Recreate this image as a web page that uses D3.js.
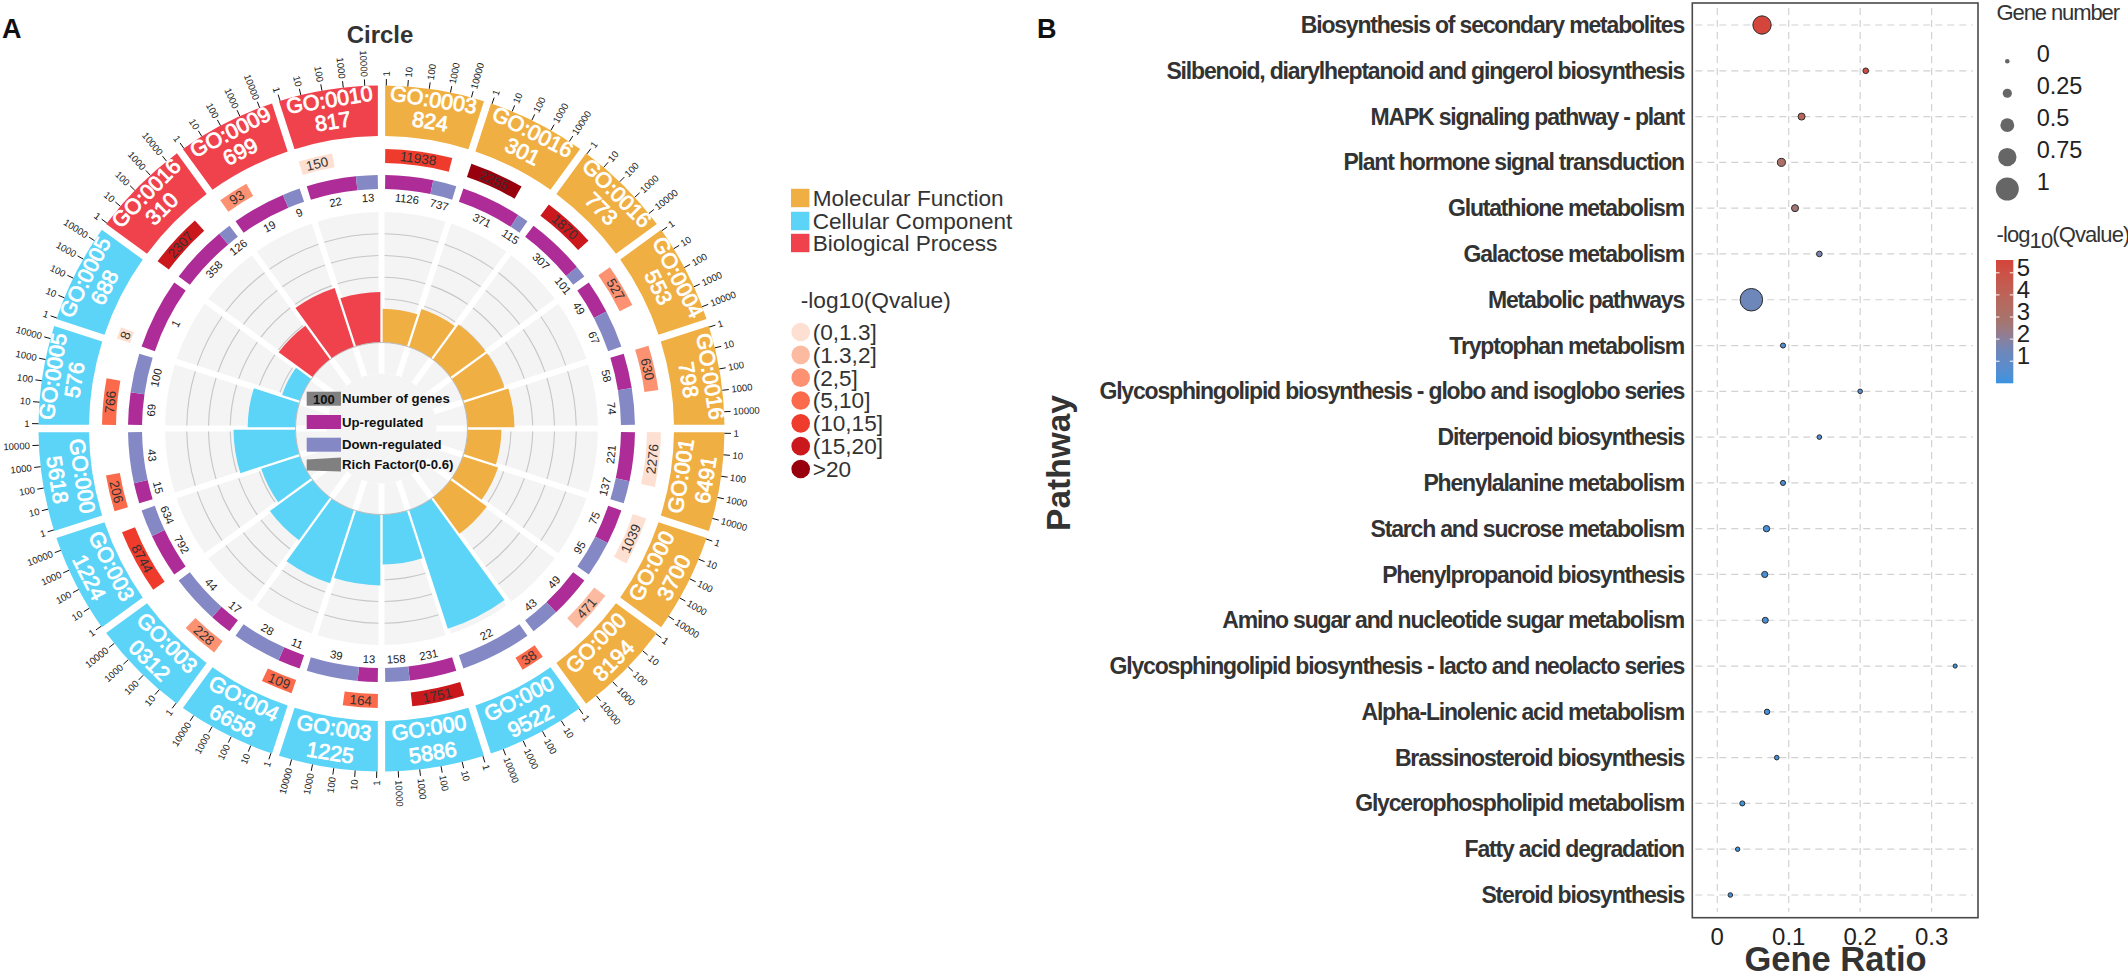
<!DOCTYPE html>
<html><head><meta charset="utf-8">
<script src="https://cdn.jsdelivr.net/npm/d3@7"></script>
<style>
html,body{margin:0;padding:0;background:#fff}
svg{display:block}
text{font-family:"Liberation Sans",Arial,sans-serif}
</style></head><body>
<svg id="c" width="2128" height="978"></svg>
<script>
// ---------- Panel A data ----------
const goTop = ["GO:0003","GO:0016","GO:0016","GO:0004","GO:0016","GO:001","GO:000","GO:000","GO:000","GO:000","GO:003","GO:004","GO:003","GO:003","GO:000","GO:0005","GO:0005","GO:0016","GO:0009","GO:0010"];
const goBottom = ["824","301","773","553","798","6491","3700","8194","9522","5886","1225","6658","0312","1224","5618","576","688","310","699","817"];
const ontology = ["MF","MF","MF","MF","MF","MF","MF","MF","CC","CC","CC","CC","CC","CC","CC","CC","CC","BP","BP","BP"];
const termGenes = [11938,2255,1870,527,630,2276,1039,471,38,1751,164,109,228,8744,206,766,8,2307,93,150];
const qBin = [4,6,5,2,2,0,0,1,3,5,3,3,2,4,3,3,0,5,2,0];
const upGenes = [1126,371,307,49,58,221,75,49,0,231,13,11,17,792,15,69,1,358,19,22];
const downGenes = [737,115,101,67,74,137,95,43,22,158,39,28,44,634,43,100,0,126,9,13];
const richFactor = [.155,.184,.2,.2,.216,.156,.17,.207,.575,.23,.326,.355,.243,.188,.285,.22,.087,.193,.285,.232];
const logTicks = [1,10,100,1000,10000];
const richGrid = [.1,.2,.3,.4,.5];
const ontologyNames = ["Molecular Function","Cellular Component","Biological Process"];
const qNames = ["(0,1.3]","(1.3,2]","(2,5]","(5,10]","(10,15]","(15,20]",">20"];
const centerLegend = ["Number of genes","Up-regulated","Down-regulated","Rich Factor(0-0.6)"];
// ---------- Panel B data ----------
const pathways = ["Biosynthesis of secondary metabolites","Silbenoid, diarylheptanoid and gingerol biosynthesis","MAPK signaling pathway - plant","Plant hormone signal transduction","Glutathione metabolism","Galactose metabolism","Metabolic pathways","Tryptophan metabolism","Glycosphingolipid biosynthesis - globo and isoglobo series","Diterpenoid biosynthesis","Phenylalanine metabolism","Starch and sucrose metabolism","Phenylpropanoid biosynthesis","Amino sugar and nucleotide sugar metabolism","Glycosphingolipid biosynthesis - lacto and neolacto series","Alpha-Linolenic acid metabolism","Brassinosteroid biosynthesis","Glycerophospholipid metabolism","Fatty acid degradation","Steroid biosynthesis"];
const geneRatio = [.0626,.2078,.118,.0897,.1088,.1429,.0477,.092,.2,.1429,.092,.0689,.0664,.0672,.333,.0696,.0832,.035,.0285,.0182];
const geneNumber = [.8,.11,.185,.24,.185,.11,1.03,.08,.055,.055,.08,.15,.14,.13,.03,.1,.055,.08,.045,.055];
const qValue = [5.5,5.2,4,3.2,2.7,1.7,1.4,.4,.5,.5,.4,.3,.3,.3,.1,.1,.1,.1,.1,.1];
const sizeLegend = [0,.25,.5,.75,1];
const colorLegend = [5,4,3,2,1];
const xTicks = [0,.1,.2,.3];

const svg = d3.select("#c");
const ontoColor = d3.scaleOrdinal(["MF","CC","BP"],["#F0AF42","#5CD4F7","#F0424D"]);
const qColor = d3.scaleOrdinal(d3.range(7),["#FEE0D2","#FCBBA1","#FC9272","#FB6A4A","#EF3B2C","#CB181D","#99000D"]);
const UP="#AD2C97",DOWN="#8488C4";
const rad=d3.scaleLinear([0,360],[0,2*Math.PI]);

const A = svg.append("g").attr("transform","translate(381.5,428.5)");
const sectorStart = d3.scaleLinear([0,20],[0,360]);
const R={out:343,outIn:292.5,qOut:279.5,qIn:265.5,rOut:253.5,rIn:239.5,bg:216.5,core:86};
const rich = d3.scaleLinear([0,.6],[R.core,R.bg]);
const arc=d3.arc().padRadius(100);
const polar=(deg,r)=>[r*Math.sin(rad(deg)),-r*Math.cos(rad(deg))];
const flip=deg=>{deg=(deg+360)%360;return deg>90&&deg<270?deg-180:deg;};
const gapDeg=r=>3.65/r*180/Math.PI;
function tangent(sel,deg,r,txt){const [x,y]=polar(deg,r);
  return sel.append("text").attr("transform",`translate(${x},${y}) rotate(${flip(deg)})`).attr("text-anchor","middle").attr("dy","0.35em").text(txt);}

goTop.forEach((t,i)=>{
  const a=sectorStart(i),b=sectorStart(i+1),mid=(a+b)/2;
  A.append("path").attr("fill",ontoColor(ontology[i])).attr("d",arc({innerRadius:R.outIn,outerRadius:R.out,startAngle:rad(a),endAngle:rad(b),padAngle:.073}));
  const tickScale=d3.scaleLog([1,1e5],[a+.8,a+18.8]);
  logTicks.forEach(v=>{
    const d=tickScale(v),[x0,y0]=polar(d,R.out),[x1,y1]=polar(d,R.out+6.5),[x2,y2]=polar(d,R.out+9);
    A.append("line").attr("x1",x0).attr("y1",y0).attr("x2",x1).attr("y2",y1).attr("stroke","#111").attr("stroke-width",1);
    const right=d<180;
    A.append("text").attr("transform",`translate(${x2},${y2}) rotate(${right?d-90:d+90})`).attr("text-anchor",right?"start":"end").attr("dy","0.35em").attr("font-size",9.6).attr("fill","#222").text(v);
  });
  const qS=a+gapDeg(R.qIn+7),qEnd=a+Math.log10(termGenes[i])*3.6;
  A.append("path").attr("fill",qColor(qBin[i])).attr("d",arc({innerRadius:R.qIn,outerRadius:R.qOut,startAngle:rad(qS),endAngle:rad(qEnd)}));
  tangent(A,(qS+qEnd)/2,(R.qIn+R.qOut)/2,termGenes[i]).attr("font-size",13.5).attr("fill","#333");
  const frac=upGenes[i]/(upGenes[i]+downGenes[i]);
  const s0=a+gapDeg(R.rOut-7),s2=b-gapDeg(R.rOut-7);
  const s1=Math.min(s2,Math.max(s0,d3.scaleLinear([0,1],[a+.9,a+18.9])(frac)));
  const s=frac===0?s0:(frac===1?s2:s1);
  if(upGenes[i]>0){A.append("path").attr("fill",UP).attr("d",arc({innerRadius:R.rIn,outerRadius:R.rOut,startAngle:rad(s0),endAngle:rad(s)}));
    tangent(A,(s0+s)/2,231,upGenes[i]).attr("font-size",11.3).attr("fill","#222");}
  if(downGenes[i]>0){A.append("path").attr("fill",DOWN).attr("d",arc({innerRadius:R.rIn,outerRadius:R.rOut,startAngle:rad(s),endAngle:rad(s2)}));
    tangent(A,(s+s2)/2,231,downGenes[i]).attr("font-size",11.3).attr("fill","#222");}
  A.append("path").attr("fill","#F4F4F4").attr("d",arc({innerRadius:55,outerRadius:R.bg,startAngle:rad(a),endAngle:rad(b),padAngle:.06}));
  richGrid.forEach(g=>{const r=rich(g),gd=gapDeg(r)*.85;
    A.append("path").attr("fill","none").attr("stroke","#C6C6C6").attr("stroke-width",1.1)
     .attr("d",d3.arc()({innerRadius:r,outerRadius:r,startAngle:rad(a+gd),endAngle:rad(b-gd)}));});
  A.append("path").attr("fill",ontoColor(ontology[i])).attr("d",arc({innerRadius:R.core,outerRadius:rich(richFactor[i]),startAngle:rad(a),endAngle:rad(b),padAngle:.023}));
});
goTop.forEach((t,i)=>{
  const mid=sectorStart(i)+9,lower=mid>90&&mid<270;
  [[t,lower?303:333],[goBottom[i],lower?328:311]].forEach(([s,r])=>
    tangent(A,mid,r,s).attr("font-size",21.5).attr("fill","#fff").attr("stroke","#fff").attr("stroke-width",.8));
});
A.append("circle").attr("r",55).attr("fill","#F4F4F4");
A.append("circle").attr("r",R.core).attr("fill","none").attr("stroke","#BDBDBD").attr("stroke-width",1);
const cx=-74.8,sw=34.3;
const cl=svg.append("g").attr("transform","translate(381.5,428.5)");
[-36.8,-13.5,9.2].forEach((y,i)=>{cl.append("rect").attr("x",cx).attr("y",y).attr("width",sw).attr("height",14).attr("fill",["#808080",UP,DOWN][i]);});
cl.append("path").attr("d",d3.line()([[cx,31],[cx+sw,29],[cx+sw,43],[cx,42]])).attr("fill","#808080");
cl.append("text").attr("x",cx+sw/2).attr("y",-25).attr("text-anchor","middle").attr("font-weight","bold").attr("font-size",13).attr("fill","#111").text("100");
centerLegend.forEach((t,i)=>cl.append("text").attr("x",cx+sw+1).attr("y",[-29.8,-6.5,16.2,36][i]).attr("dy","0.35em").attr("font-weight","bold").attr("font-size",13.2).attr("fill","#111").text(t));

svg.append("text").attr("x",380).attr("y",43).attr("text-anchor","middle").attr("font-size",24).attr("font-weight","bold").attr("fill","#333").text("Circle");
svg.append("text").attr("x",2).attr("y",38).attr("font-size",27).attr("font-weight","bold").attr("fill","#111").text("A");
svg.append("text").attr("x",1037).attr("y",38).attr("font-size",27).attr("font-weight","bold").attr("fill","#111").text("B");

const leg=svg.append("g");
ontologyNames.forEach((t,i)=>{const y=[198,221,243][i];
  leg.append("rect").attr("x",791).attr("y",y-9.2).attr("width",18.4).attr("height",18.4).attr("fill",ontoColor(["MF","CC","BP"][i]));
  leg.append("text").attr("x",812.7).attr("y",y).attr("dy","0.35em").attr("font-size",22.6).attr("fill","#333").text(t);});
leg.append("text").attr("x",800.7).attr("y",308).attr("font-size",22.7).attr("fill","#333").text("-log10(Qvalue)");
qNames.forEach((t,i)=>{const y=d3.scaleLinear([0,6],[332,469])(i);
  leg.append("circle").attr("cx",800.7).attr("cy",y).attr("r",9.3).attr("fill",qColor(i));
  leg.append("text").attr("x",812.7).attr("y",y).attr("dy","0.35em").attr("font-size",22.6).attr("fill","#333").text(t);});

const X0=1692.3,X1=1978,Y0=3,Y1=917.7;
const x=d3.scaleLinear([0,.3],[1717.3,1931.6]);
const y=d3.scalePoint(pathways,[25,895]);
const colorStops=[0,1.5,2.8,5.58], colorVals=["#3A93E0","#6F86B8","#A5756F","#D5443B"];
const col=d3.scaleLinear(colorStops,colorVals).interpolate(d3.interpolateLab);
const size=d3.scaleLinear([0,1],[2.3,11.5]);
const B=svg.append("g");
pathways.forEach(p=>B.append("line").attr("x1",X0+3).attr("x2",X1-5).attr("y1",y(p)).attr("y2",y(p)).attr("stroke","#D2D2D2").attr("stroke-width",1.2).attr("stroke-dasharray","7 5"));
xTicks.forEach(t=>B.append("line").attr("x1",x(t)).attr("x2",x(t)).attr("y1",Y0+5).attr("y2",Y1-6).attr("stroke","#D2D2D2").attr("stroke-width",1.2).attr("stroke-dasharray","7 5"));
B.append("rect").attr("x",X0).attr("y",Y0).attr("width",X1-X0).attr("height",Y1-Y0).attr("fill","none").attr("stroke","#4A4A4A").attr("stroke-width",1.6);
pathways.forEach((p,i)=>{
  B.append("circle").attr("cx",x(geneRatio[i])).attr("cy",y(p)).attr("r",size(geneNumber[i])-.5).attr("fill",col(qValue[i])).attr("stroke","#2b2b2b").attr("stroke-width",1);
  B.append("text").attr("x",1684).attr("y",y(p)).attr("dy","0.35em").attr("text-anchor","end").attr("font-size",23).attr("font-weight","bold").attr("letter-spacing","-1.18px").attr("fill","#333").text(p);
});
xTicks.forEach(t=>B.append("text").attr("x",x(t)).attr("y",945).attr("text-anchor","middle").attr("font-size",24).attr("fill","#222").text(t));
B.append("text").attr("x",1835.5).attr("y",971).attr("text-anchor","middle").attr("font-size",34.5).attr("font-weight","bold").attr("fill","#333").text("Gene Ratio");
B.append("text").attr("transform","translate(1070,463) rotate(-90)").attr("text-anchor","middle").attr("font-size",33.5).attr("font-weight","bold").attr("fill","#333").text("Pathway");
B.append("text").attr("x",1996.5).attr("y",12).attr("dy","0.35em").attr("font-size",22).attr("letter-spacing","-1.1px").attr("fill","#333").text("Gene number");
sizeLegend.forEach((v,i)=>{const yy=d3.scaleLinear([0,4],[61.3,189])(i);
  B.append("circle").attr("cx",2007.3).attr("cy",yy).attr("r",size(v)).attr("fill","#666");
  B.append("text").attr("x",2036.7).attr("y",yy-7.5).attr("dy","0.35em").attr("font-size",23.5).attr("fill","#222").text(v);});
const ct=B.append("text").attr("x",1996.5).attr("y",242).attr("font-size",22).attr("letter-spacing","-0.9px").attr("fill","#333");
ct.append("tspan").text("-log");ct.append("tspan").attr("dy",6).text("10");ct.append("tspan").attr("dy",-6).text("(Qvalue)");
const grad=svg.append("defs").append("linearGradient").attr("id","cb").attr("x1",0).attr("y1",1).attr("x2",0).attr("y2",0);
const cy=d3.scaleLinear([0,5.58],[383.3,260]);
d3.range(0,5.6,.2).concat([5.58]).forEach(v=>grad.append("stop").attr("offset",v/5.58).attr("stop-color",col(v)));
B.append("rect").attr("x",1996).attr("y",260).attr("width",17.3).attr("height",123.3).attr("fill","url(#cb)");
colorLegend.forEach(v=>{
  B.append("line").attr("x1",1996).attr("x2",1999.5).attr("y1",cy(v)).attr("y2",cy(v)).attr("stroke","#fff");
  B.append("line").attr("x1",2009.8).attr("x2",2013.3).attr("y1",cy(v)).attr("y2",cy(v)).attr("stroke","#fff");
  B.append("text").attr("x",2016.7).attr("y",cy(v)-5.5).attr("dy","0.35em").attr("font-size",24).attr("fill","#222").text(v);});
</script></body></html>
